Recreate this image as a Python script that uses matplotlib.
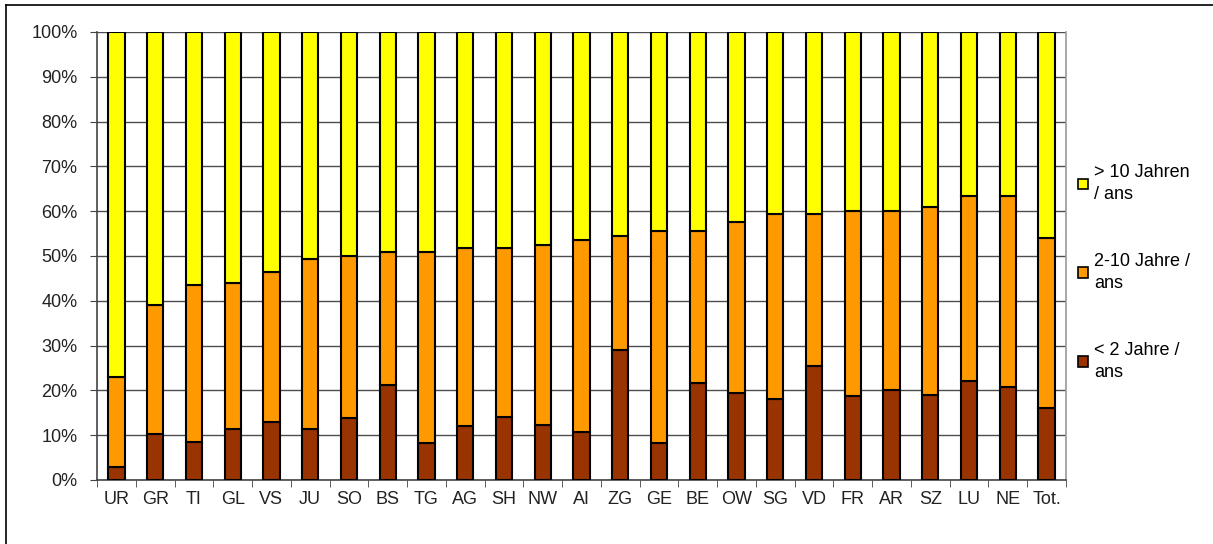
import matplotlib.pyplot as plt
import numpy as np
from matplotlib.lines import Line2D
from matplotlib.ticker import FixedLocator, PercentFormatter

plt.rcParams['font.family'] = ['Liberation Sans', 'DejaVu Sans']

cantons = ['UR', 'GR', 'TI', 'GL', 'VS', 'JU', 'SO', 'BS', 'TG', 'AG', 'SH', 'NW', 'AI',
           'ZG', 'GE', 'BE', 'OW', 'SG', 'VD', 'FR', 'AR', 'SZ', 'LU', 'NE', 'Tot.']
# share < 2 years
lt2 = [3.0, 10.2, 8.5, 11.3, 13.0, 11.3, 13.8, 21.3, 8.3, 12.0, 14.0, 12.2, 10.8,
       29.0, 8.3, 21.7, 19.4, 18.0, 25.5, 18.8, 20.0, 19.0, 22.0, 20.8, 16.0]
# share 2-10 years
mid = [20.0, 28.8, 35.0, 32.7, 33.5, 38.1, 36.2, 29.7, 42.7, 39.7, 37.7, 40.3, 42.7,
       25.5, 47.2, 33.8, 38.1, 41.3, 33.8, 41.2, 40.0, 42.0, 41.5, 42.7, 38.0]
gt10 = [100 - a - b for a, b in zip(lt2, mid)]

labels = ['> 10 Jahren\n/ ans', '2-10 Jahre /\nans', '< 2 Jahre /\nans']
colors = ['#FFFF00', '#FF9900', '#993300']

fig = plt.figure(figsize=(12.13, 5.44), dpi=100)
ax = fig.add_axes([97 / 1213, 64 / 544, 969 / 1213, 448 / 544])

x = np.arange(len(cantons))
w = 0.42
b1 = ax.bar(x, lt2, w, color=colors[2], edgecolor='black', linewidth=1.5, zorder=3)
b2 = ax.bar(x, mid, w, bottom=lt2, color=colors[1], edgecolor='black', linewidth=1.5, zorder=3)
b3 = ax.bar(x, gt10, w, bottom=np.array(lt2) + np.array(mid), color=colors[0],
            edgecolor='black', linewidth=1.5, zorder=3)

ax.set_xlim(-0.5, len(cantons) - 0.5)
ax.set_ylim(0, 100)
ax.set_yticks(np.arange(0, 101, 10))
ax.yaxis.set_major_formatter(PercentFormatter(decimals=0))
ax.yaxis.grid(True, color='#4d4d4d', linewidth=1)
ax.set_axisbelow(True)

ax.set_xticks(x)
ax.set_xticklabels(cantons)
ax.xaxis.set_minor_locator(FixedLocator(np.arange(-0.5, len(cantons), 1)))
ax.tick_params(axis='x', which='major', length=0, pad=8, labelsize=13, colors='#222222')
ax.tick_params(axis='x', which='minor', length=5, color='#444444')
ax.tick_params(axis='y', length=5, color='#444444', labelsize=13, labelcolor='#222222', pad=9)

for side in ['left', 'bottom']:
    ax.spines[side].set_color('#444444')
    ax.spines[side].set_linewidth(1.2)
ax.spines['top'].set_visible(False)
ax.spines['right'].set_color('#999999')
ax.spines['right'].set_linewidth(1.2)

leg = fig.legend([b3, b2, b1], labels, loc='upper left', bbox_to_anchor=(1062 / 1213, 1 - 148 / 544),
                 frameon=False, fontsize=13, handlelength=0.55, handleheight=0.55,
                 handletextpad=0.35, labelspacing=2.75, alignment='left')
for h in leg.legend_handles:
    h.set_linewidth(1.2)
for t in leg.get_texts():
    t.set_linespacing(1.4)

# outer frame (top and left only visible)
fig.add_artist(Line2D([6 / 1213, 1], [1 - 5 / 544, 1 - 5 / 544], color='black', linewidth=1.2))
fig.add_artist(Line2D([6 / 1213, 6 / 1213], [0, 1 - 5 / 544], color='black', linewidth=1.2))

fig.savefig('out.png', dpi=100)
